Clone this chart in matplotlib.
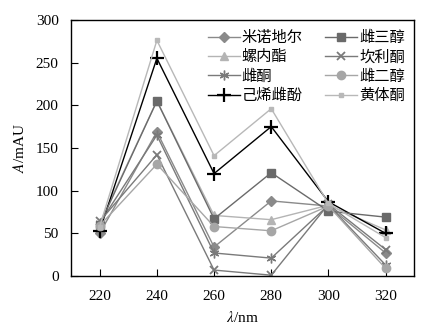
import matplotlib
matplotlib.use("Agg")
import matplotlib.pyplot as plt

# wavelengths (nm)
wavelengths = [220, 240, 260, 280, 300, 320]

# peak areas (mAU) for each compound
minoxidil = [50, 169, 34, 88, 82, 27]        # 米诺地尔
estriol = [60, 205, 67, 121, 76, 69]         # 雌三醇
spironolactone = [62, 205, 71, 66, 83, 54]   # 螺内酯
canrenone = [64, 142, 7, 1, 84, 31]          # 坎利酮
estrone = [62, 165, 27, 21, 83, 13]          # 雌酮
estradiol = [59, 131, 58, 53, 82, 9]         # 雌二醇
diethylstilbestrol = [53, 255, 120, 175, 87, 50]  # 己烯雌酚
progesterone = [58, 276, 141, 196, 85, 45]   # 黄体酮

plt.rcParams['font.family'] = ['Liberation Serif', 'Noto Sans CJK SC']
plt.rcParams['mathtext.fontset'] = 'stix'

fig = plt.figure(figsize=(4.31, 3.31), dpi=100)
ax = fig.add_axes([0.165, 0.166, 0.796, 0.774])

# order matters for the 2-column legend (fills column by column)
series = [
    ("米诺地尔", minoxidil, dict(color="#8a8a8a", marker="D", ms=5)),
    ("螺内酯", spironolactone, dict(color="#b4b4b4", marker="^", ms=6)),
    ("雌酮", estrone, dict(color="#7a7a7a", marker=(6, 2, 0), ms=7)),
    ("己烯雌酚", diethylstilbestrol, dict(color="black", marker="+", ms=10, mew=1.6)),
    ("雌三醇", estriol, dict(color="#6a6a6a", marker="s", ms=6)),
    ("坎利酮", canrenone, dict(color="#7a7a7a", marker="x", ms=6, mew=1.3)),
    ("雌二醇", estradiol, dict(color="#a6a6a6", marker="o", ms=6)),
    ("黄体酮", progesterone, dict(color="#b8b8b8", marker="s", ms=3.5)),
]

for name, vals, style in series:
    ax.plot(wavelengths, vals, lw=1.0, label=name, **style)

ax.set_xlim(210, 330)
ax.set_ylim(0, 300)
ax.set_xticks(wavelengths)
ax.set_yticks(range(0, 301, 50))
ax.tick_params(direction="in", labelsize=11, length=5, top=False, right=False)
ax.tick_params(axis="x", pad=10)
ax.tick_params(axis="y", pad=9)
for s in ax.spines.values():
    s.set_linewidth(1.0)

ax.set_xlabel(r"$\lambda$/nm", fontsize=11, labelpad=5)
ax.set_ylabel(r"$A$/mAU", fontsize=11, labelpad=6)

leg = ax.legend(ncol=2, loc="upper right", frameon=False,
                prop={'family': ['Noto Sans CJK SC'], 'size': 11},
                handlelength=2.1, handletextpad=0.12, columnspacing=1.5,
                labelspacing=0.15, borderaxespad=0.2)

fig.savefig("out.png", dpi=100)
